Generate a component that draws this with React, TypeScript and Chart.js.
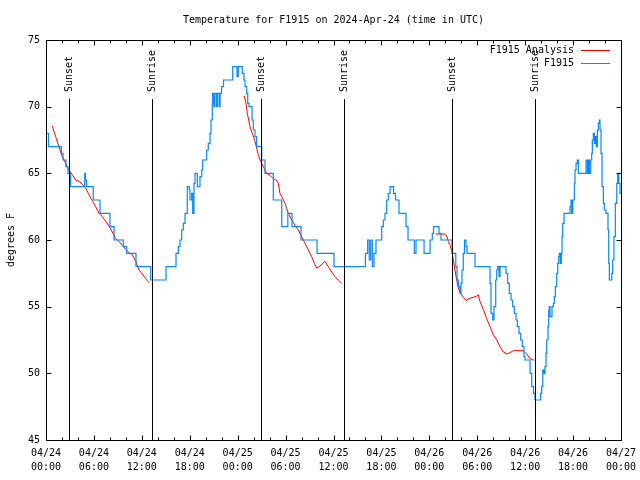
import React, { useEffect, useRef } from 'react';
import { Chart, registerables } from 'chart.js';

Chart.register(...registerables);

const FONT = 'DejaVu Sans Mono';
const TITLE = 'Temperature for F1915 on 2024-Apr-24 (time in UTC)';
const Y_TITLE = 'degrees F';
const DAY_LABELS = ['04/24', '04/25', '04/26', '04/27'];
const TIME_LABELS = ['00:00', '06:00', '12:00', '18:00'];
const SUN_EVENTS = ['Sunset', 'Sunrise', 'Sunset', 'Sunrise', 'Sunset', 'Sunrise'];
const SUN_HOURS = [2.92, 13.31, 26.96, 37.35, 50.88, 61.27];
const SUN_LINE_TOP = 70.6;

const SERIES_NAMES = ['F1915 Analysis', 'F1915'];
const SERIES_COLORS = ['#ff0000', '#0a88f5'];

// F1915 observations (hours since 04/24 00:00 UTC, deg F)
const OBS_HOURS = [
  0, 0.31, 1.92, 2.13, 2.5, 2.75, 3.09, 4.85, 4.95, 5.07, 5.92, 6.76, 8.01, 8.52, 9.68, 10.11, 11.27, 13.11,
  15.03, 16.28, 16.57, 16.78, 16.99, 17.19, 17.41, 17.69, 17.94, 18.03, 18.24, 18.37, 18.53, 18.66, 18.95,
  19.28, 19.5, 19.62, 20.12, 20.32, 20.54, 20.66, 20.82, 20.87, 21.03, 21.15, 21.37, 21.48, 21.7, 21.8,
  21.98, 22.23, 23.38, 23.92, 24.08, 24.58, 24.79, 24.92, 25.13, 25.26, 25.42, 25.8, 25.96, 26.17,
  26.38, 27.01, 27.42, 28.46, 29.52, 30.28, 30.81, 31.93, 33.94, 36.06, 40.0, 40.28, 40.48, 40.66, 40.86,
  41.07, 41.32, 42.04, 42.24, 42.45, 42.66, 42.86, 43.08, 43.52, 43.77, 44.2, 45.08, 45.33, 46.12, 46.33,
  47.34, 48.09, 48.37, 48.53, 49.21, 49.46, 50.84, 51.31, 51.47, 51.65, 51.84, 51.96, 52.09, 52.25, 52.4,
  52.59, 52.72, 53.72, 55.6, 55.72, 55.94, 56.1, 56.31, 56.44, 56.56, 56.73, 56.85, 57.6, 57.81, 58.01,
  58.23, 58.44, 58.64, 58.85, 59.02, 59.23, 59.44, 59.64, 59.85, 59.98, 60.61, 60.82, 61.05, 61.23, 61.94,
  62.07, 62.2, 62.36, 62.49, 62.61, 62.7, 62.86, 62.95, 63.02, 63.11, 63.36, 63.53, 63.65, 63.78, 63.95,
  64.08, 64.2, 64.28, 64.4, 64.53, 64.62, 64.7, 64.87, 65.62, 65.74, 65.83, 65.96, 66.16, 66.24, 66.37,
  66.53, 66.66, 67.62, 67.79, 67.91, 68.04, 68.21, 68.33, 68.41, 68.54, 68.66, 68.79, 68.91, 69.04, 69.16,
  69.29, 69.37, 69.5, 69.62, 69.79, 69.91, 70.12, 70.37, 70.46, 70.54, 70.84, 70.96, 71.12, 71.29, 71.47,
  71.59, 71.72, 71.88, 72.0,
];
const OBS_TEMPS = [
  68, 67, 66.5, 66, 65.5, 65, 64, 65, 64.5, 64, 63, 62, 61, 60, 59.5, 59, 58, 57,
  58, 59, 59.5, 60, 60.75, 61.25, 62, 64, 63.75, 63, 63.5, 62, 64.25, 65, 64,
  64.75, 65.25, 66, 66.75, 67.25, 68, 69, 70.25, 71, 70, 71, 70, 71, 70, 71,
  71.5, 72, 73, 72.25, 73, 72.5, 72, 71.5, 71, 70.25, 70, 69, 68.25, 67.75,
  67, 66, 65, 63, 61, 62, 61, 60, 59, 58, 59, 60, 58.5, 60, 58,
  59, 60, 61, 61.5, 62, 63, 63.5, 64, 63.5, 63, 62, 61, 60, 59, 60,
  59, 60, 60.5, 61, 60.5, 60, 59, 58, 57, 56.5, 56, 56.75, 57.75, 59, 60,
  59.5, 59, 58, 56.75, 54.5, 54, 55, 57, 57.75, 58, 57.25, 58, 57.5, 56.75, 56,
  55.5, 55, 54.5, 54, 53.5, 53, 52.5, 52, 51.25, 51, 50, 49, 48.5, 48, 48.5,
  49, 50.25, 50, 50.5, 51.5, 52.5, 53.5, 54.75, 55, 54.25, 55, 55.25, 55.75, 56.5, 57.5,
  58.25, 58.75, 59, 58.25, 59, 60.25, 61.25, 62, 62.5, 63, 62, 63, 64.25, 65.25, 65.75,
  66, 65, 66, 65, 66, 65, 66, 66.5, 67.5, 68, 67.25, 67.75, 67, 68.25, 68.75,
  69, 68.25, 66.5, 64, 62.75, 62.25, 62, 60.75, 58.25, 57, 57.5, 58.5, 60.25, 62.75, 64.25,
  65, 64.25, 63.5, 63.5,
];

// F1915 Analysis, three separate runs
const ANA1_HOURS = [0.79, 1.21, 1.63, 2.04, 2.47, 2.88, 3.29, 3.72, 4.13, 4.55, 4.97, 5.38, 5.8, 6.22, 6.64,
  7.05, 7.48, 7.89, 8.3, 8.73, 9.14, 9.55, 9.98, 10.39, 10.81, 11.23, 11.65, 12.06, 12.48, 12.9];
const ANA1_TEMPS = [68.55, 67.75, 67, 66.25, 65.75, 65.25, 64.9, 64.5, 64.4, 64.2, 63.9, 63.4, 62.95, 62.5, 62,
  61.75, 61.4, 61.05, 60.6, 60.1, 59.9, 59.6, 59.3, 59.05, 58.9, 58.4, 57.75, 57.45, 57.1, 56.8];
const ANA2_HOURS = [24.83, 25.04, 25.21, 25.38, 25.55, 25.76, 25.96, 26.17, 26.38, 26.58, 26.8, 27.01, 27.21,
  27.42, 27.64, 28.05, 28.46, 28.89, 29.09, 29.3, 29.52, 29.93, 30.34, 30.77, 31.18, 31.59, 32.02, 32.43,
  32.85, 33.27, 33.6, 33.9, 34.31, 34.94, 35.35, 35.78, 36.19, 36.6, 37.03];
const ANA2_TEMPS = [70.8, 70.25, 69.5, 69, 68.5, 68.1, 67.8, 67.4, 66.9, 66.4, 66, 65.75, 65.5,
  65.25, 65, 64.85, 64.6, 64.45, 64.25, 63.5, 63.25, 62.75, 62, 61.5, 61.1, 60.75, 60.25, 59.75,
  59.25, 58.75, 58.25, 57.9, 58.05, 58.4, 58, 57.6, 57.25, 57, 56.75];
const ANA3_HOURS = [48.8, 49.96, 50.18, 50.38, 50.59, 50.8, 51.0, 51.21, 51.43, 51.63, 51.9, 52.28, 52.68,
  52.88, 53.5, 53.93, 54.13, 54.34, 54.76, 55.18, 55.6, 56.01, 56.44, 56.85, 57.27, 57.73, 58.1, 58.52,
  59.77, 60.19, 60.61, 60.98, 61.15];
const ANA3_TEMPS = [60.45, 60.45, 60.3, 59.9, 59.6, 59.25, 58.5, 57.75, 57, 56.4, 56, 55.7, 55.45,
  55.6, 55.7, 55.8, 55.9, 55.4, 54.8, 54.1, 53.5, 52.9, 52.5, 52, 51.6, 51.45, 51.55, 51.7,
  51.7, 51.45, 51.1, 51, 51];

const X_MIN = 0;
const X_MAX = 72;
const X_MAJOR = 6;
const X_MINOR = 2;
const Y_MIN = 45;
const Y_MAX = 75;
const Y_STEP = 5;

const pts = (hs: number[], ts: number[]) => hs.map((h, i) => ({ x: h, y: ts[i] }));

const decorPlugin = {
  id: 'decor',
  afterDatasetsDraw(chart: any) {
    const { ctx, chartArea: a, scales } = chart;
    const xs = scales.x;
    const ys = scales.y;
    const L = Math.round(a.left) + 0.5;
    const R = Math.round(a.right) + 0.5;
    const T = Math.round(a.top) + 0.5;
    const B = Math.round(a.bottom) + 0.5;
    ctx.save();
    ctx.strokeStyle = '#000';
    ctx.lineWidth = 1;
    ctx.beginPath();
    for (let h = X_MIN; h <= X_MAX; h += X_MINOR) {
      const px = Math.round(xs.getPixelForValue(h)) + 0.5;
      const len = h % X_MAJOR === 0 ? 5 : 3;
      ctx.moveTo(px, B); ctx.lineTo(px, B - len);
      ctx.moveTo(px, T); ctx.lineTo(px, T + len);
    }
    for (let v = Y_MIN; v <= Y_MAX; v += Y_STEP) {
      const py = Math.round(ys.getPixelForValue(v)) + 0.5;
      ctx.moveTo(L, py); ctx.lineTo(L + 5, py);
      ctx.moveTo(R, py); ctx.lineTo(R - 5, py);
    }
    SUN_HOURS.forEach((h) => {
      const px = Math.round(xs.getPixelForValue(h)) + 0.5;
      ctx.moveTo(px, B);
      ctx.lineTo(px, Math.round(ys.getPixelForValue(SUN_LINE_TOP)));
    });
    ctx.stroke();
    ctx.strokeRect(L, T, R - L, B - T);

    ctx.fillStyle = '#000';
    ctx.font = `10px "${FONT}"`;
    SUN_HOURS.forEach((h, i) => {
      const px = Math.round(xs.getPixelForValue(h)) + 0.5;
      const py = Math.round(ys.getPixelForValue(SUN_LINE_TOP)) - 7;
      ctx.save();
      ctx.translate(px, py);
      ctx.rotate(-Math.PI / 2);
      ctx.textAlign = 'left';
      ctx.textBaseline = 'middle';
      ctx.fillText(SUN_EVENTS[i], 0, 0);
      ctx.restore();
    });

    ctx.textAlign = 'right';
    ctx.textBaseline = 'middle';
    SERIES_NAMES.forEach((name, i) => {
      const y = Math.round(a.top + 9.5 + i * 13) + 0.5;
      ctx.fillStyle = '#000';
      ctx.fillText(name, a.right - 47, y);
      ctx.strokeStyle = SERIES_COLORS[i];
      ctx.beginPath();
      ctx.moveTo(a.right - 40, y);
      ctx.lineTo(a.right - 11, y);
      ctx.stroke();
    });
    ctx.restore();
  },
};

export default function App() {
  const ref = useRef<HTMLCanvasElement | null>(null);
  useEffect(() => {
    if (!ref.current) return;
    const analysis = [
      ...pts(ANA1_HOURS, ANA1_TEMPS),
      { x: 18, y: null },
      ...pts(ANA2_HOURS, ANA2_TEMPS),
      { x: 42, y: null },
      ...pts(ANA3_HOURS, ANA3_TEMPS),
    ];
    const chart = new Chart(ref.current, {
      type: 'line',
      data: {
        datasets: [
          {
            label: SERIES_NAMES[0],
            data: analysis as any,
            borderColor: SERIES_COLORS[0],
            borderWidth: 1,
            pointRadius: 0,
            spanGaps: false,
            tension: 0,
            order: 2,
          },
          {
            label: SERIES_NAMES[1],
            data: pts(OBS_HOURS, OBS_TEMPS),
            borderColor: SERIES_COLORS[1],
            borderWidth: 1.2,
            pointRadius: 0,
            stepped: true,
            order: 1,
          },
        ],
      },
      options: {
        animation: false,
        responsive: false,
        devicePixelRatio: 1,
        color: '#000',
        layout: { padding: { left: 0, right: 19, top: 0, bottom: 0 } },
        plugins: {
          legend: { display: false },
          tooltip: { enabled: false },
          title: {
            display: true,
            text: TITLE,
            color: '#000',
            fullSize: false,
            font: { family: FONT, size: 10, weight: 'normal' as any, lineHeight: 1.2 },
            padding: { top: 14, bottom: 14 },
          },
        },
        scales: {
          x: {
            type: 'linear',
            min: X_MIN,
            max: X_MAX,
            grid: { display: false, drawTicks: false },
            border: { display: false },
            afterFit: (s: any) => {
              s.height = 40;
              s.paddingLeft = 0;
              s.paddingRight = 0;
            },
            ticks: {
              stepSize: X_MAJOR,
              autoSkip: false,
              maxRotation: 0,
              minRotation: 0,
              padding: 6,
              color: '#000',
              font: { family: FONT, size: 10, lineHeight: 1.4 },
              callback: (v: any) => {
                const n = Number(v);
                if (n % X_MAJOR !== 0) return '';
                const d = Math.floor(n / 24);
                const t = (n % 24) / X_MAJOR;
                return [DAY_LABELS[d], TIME_LABELS[t]];
              },
            },
          },
          y: {
            min: Y_MIN,
            max: Y_MAX,
            grid: { display: false, drawTicks: false },
            border: { display: false },
            afterFit: (s: any) => { s.width = 46; },
            ticks: {
              stepSize: Y_STEP,
              padding: 6,
              color: '#000',
              font: { family: FONT, size: 10 },
            },
            title: {
              display: true,
              text: Y_TITLE,
              color: '#000',
              font: { family: FONT, size: 10, lineHeight: 1.2 },
              padding: { top: 5, bottom: 0 },
            },
          },
        },
      },
      plugins: [decorPlugin],
    });
    return () => chart.destroy();
  }, []);
  return (
    <div style={{ position: 'fixed', left: 0, top: 0, width: 640, height: 480, background: '#fff' }}>
      <canvas ref={ref} width={640} height={480} />
    </div>
  );
}
